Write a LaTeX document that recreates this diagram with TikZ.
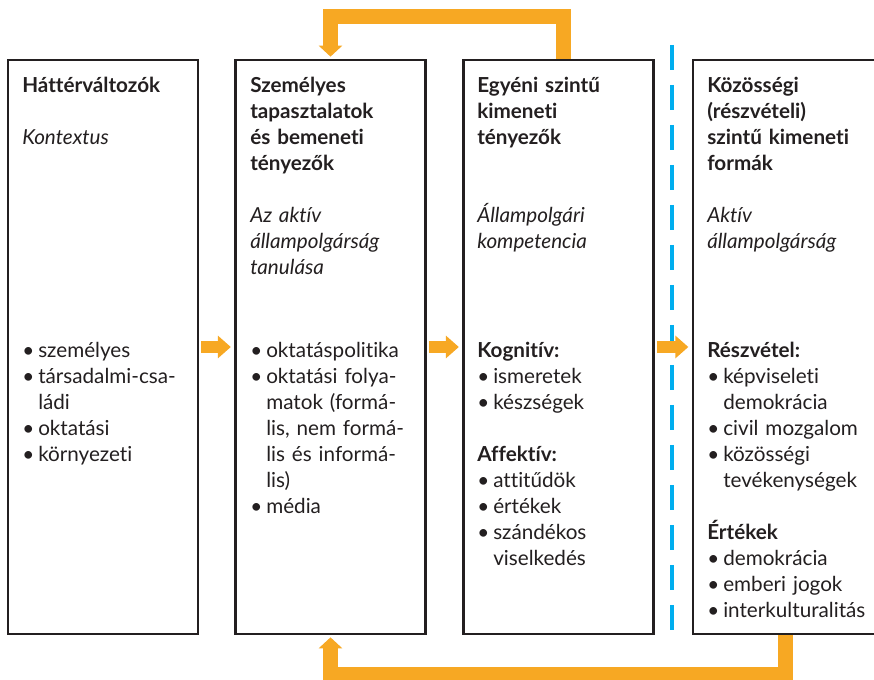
\documentclass[tikz,border=0pt]{standalone}
\usepackage{fontspec}
\setmainfont{Lato}[Ligatures=CommonOff]
\definecolor{FlowOrange}{HTML}{F7A823}
\definecolor{SplitBlue}{HTML}{00AEEF}
\definecolor{BoxInk}{HTML}{231F20}
\usetikzlibrary{arrows.meta}
\newcommand{\blt}{\makebox[12pt][l]{\textbullet}}
\newcommand{\ind}{\hspace*{12pt}}
\tikzset{
  box/.style={draw=BoxInk, line width=2pt, minimum width=142.5pt, minimum height=430.5pt, inner sep=0pt},
  txt/.style={anchor=base west, inner sep=0pt, text width=150pt, align=left, text=BoxInk, font=\fontsize{15.5}{19.5}\selectfont},
  flow/.style={draw=FlowOrange, line width=9pt, -{Triangle[length=9.75pt,width=16.5pt]}, shorten <=1.5pt, shorten >=2.5pt},
  feedback/.style={draw=FlowOrange, line width=11.25pt, -{Triangle[length=8.25pt,width=17.25pt]}, shorten >=1.5pt},
  split/.style={draw=SplitBlue, line width=3pt, dash pattern=on 18.75pt off 11.25pt}
}

\begin{document}
\begin{tikzpicture}[x=0.75pt, y=-0.75pt]
      \clip (0,0) rectangle (874,680);
      \node[box] (hatter) at (103,347) {};
      \node[box] (szemelyes) at (330.5,347) {};
      \node[box] (egyeni) at (558.5,347) {};
      \node[box] (kozossegi) at (788,347) {};

      \node[txt] (hatter-cim) at (22,93) {\textbf{Háttérváltozók}};
      \node[txt] (hatter-alcim) at (22,145) {\textit{Kontextus}};
      \node[txt] (hatter-lista) at (22,358) {\blt személyes\\
        \blt társadalmi-csa-\\ \ind ládi\\ \blt oktatási\\ \blt környezeti};

      \node[txt] (szemelyes-cim) at (250,93) {\textbf{Személyes\\tapasztalatok\\és bemeneti\\tényezők}};
      \node[txt] (szemelyes-alcim) at (250,223) {\textit{Az aktív\\állampolgárság\\tanulása}};
      \node[txt] (szemelyes-lista) at (250,358) {\blt oktatáspolitika\\
        \blt oktatási folya-\\ \ind matok (formá-\\ \ind lis, nem formá-\\
        \ind lis és informá-\\ \ind lis)\\ \blt média};

      \node[txt] (egyeni-cim) at (477,93) {\textbf{Egyéni szintű\\kimeneti\\tényezők}};
      \node[txt] (egyeni-alcim) at (477,223) {\textit{Állampolgári\\kompetencia}};
      \node[txt] (egyeni-lista) at (477,358) {\textbf{Kognitív:}\\
        \blt ismeretek\\ \blt készségek\\[19.5pt]
        \textbf{Affektív:}\\ \blt attitűdök\\ \blt értékek\\ \blt szándékos\\ \ind viselkedés};

      \node[txt] (kozossegi-cim) at (707,93) {\textbf{Közösségi\\(részvételi)\\szintű kimeneti\\formák}};
      \node[txt] (kozossegi-alcim) at (707,223) {\textit{Aktív\\állampolgárság}};
      \node[txt] (kozossegi-lista) at (707,358) {\textbf{Részvétel:}\\
        \blt képviseleti\\ \ind demokrácia\\ \blt civil mozgalom\\ \blt közösségi\\
        \ind tevékenységek\\[19.5pt]
        \textbf{Értékek}\\ \blt demokrácia\\ \blt emberi jogok\\ \blt interkulturalitás};

      \coordinate (valaszto-fent) at (672,45);
      \coordinate (valaszto-lent) at (672,643);
      \draw[split] (valaszto-fent) -- (valaszto-lent);

      \draw[flow] (hatter.east) -- (szemelyes.west);
      \draw[flow] (szemelyes.east) -- (egyeni.west);
      \draw[flow] (egyeni.east) -- (kozossegi.west);
      \draw[feedback] ([xshift=4pt]egyeni.north) -- ++(0,-42) -| (szemelyes.north);
      \draw[feedback] ([xshift=-2.25pt]kozossegi.south) -- ++(0,39) -| (szemelyes.south);
    \end{tikzpicture}
\end{document}
